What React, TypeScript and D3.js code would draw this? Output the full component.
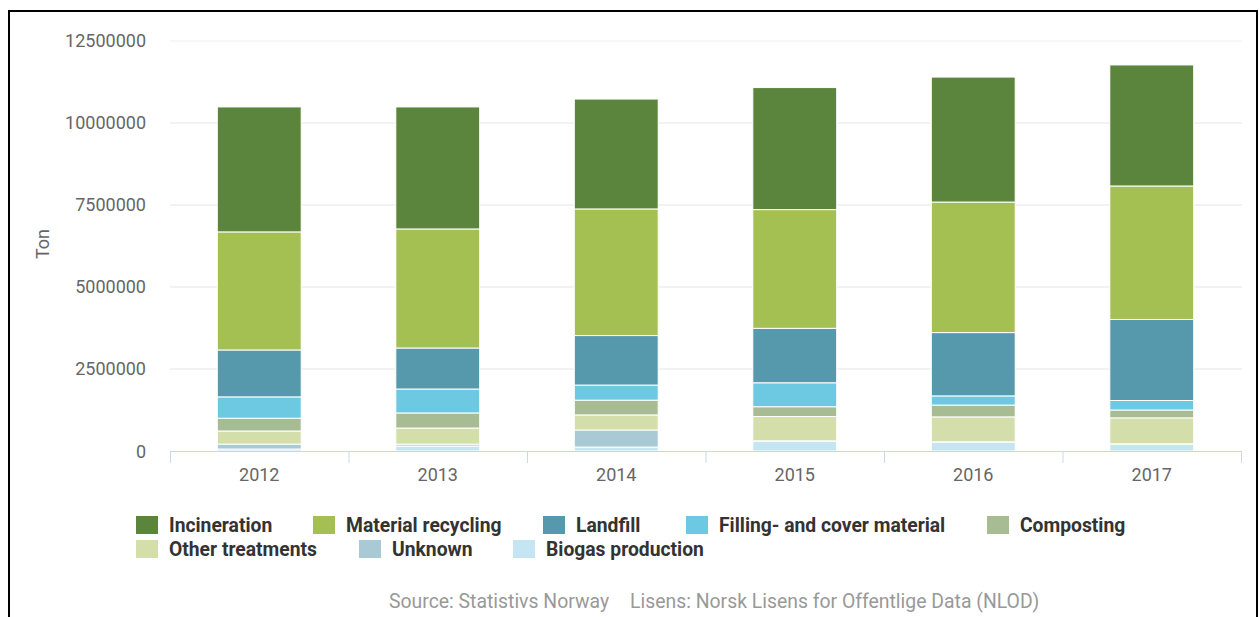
import React from "react";
import * as d3 from "d3";

const years = ["2012", "2013", "2014", "2015", "2016", "2017"];
const seriesNames = [
  "Incineration",
  "Material recycling",
  "Landfill",
  "Filling- and cover material",
  "Composting",
  "Other treatments",
  "Unknown",
  "Biogas production",
];
const colors = ["#5b843d", "#a5c052", "#5699ac", "#6dc8e2", "#a8bc94", "#d3deab", "#a9c9d4", "#c5e5f2"];

const incineration = [3810000, 3720000, 3350000, 3720000, 3810000, 3690000];
const materialRecycling = [3600000, 3630000, 3860000, 3620000, 3980000, 4070000];
const landfill = [1430000, 1250000, 1510000, 1660000, 1930000, 2470000];
const filling = [650000, 730000, 460000, 730000, 280000, 290000];
const composting = [390000, 460000, 450000, 300000, 360000, 240000];
const otherTreatments = [400000, 490000, 460000, 740000, 760000, 790000];
const unknown = [150000, 60000, 520000, 10000, 10000, 10000];
const biogas = [60000, 150000, 120000, 300000, 270000, 210000];

const seriesValues = [incineration, materialRecycling, landfill, filling, composting, otherTreatments, unknown, biogas];
const yTicks = [0, 2500000, 5000000, 7500000, 10000000, 12500000];

// layout
const W = 1259;
const H = 617;
const plotLeft = 170;
const plotRight = 1241;
const plotTop = 41;
const plotBottom = 451;
const legendX = [136, 313, 543, 686, 987, 136, 359, 513];
const legendRow = [0, 0, 0, 0, 0, 1, 1, 1];

export default function App() {
  const x = d3.scaleBand<string>().domain(years).range([plotLeft, plotRight]).paddingInner(0.53).paddingOuter(0.265);
  const y = d3.scaleLinear().domain([0, 12500000]).range([plotBottom, plotTop]);

  const rows = years.map((yr, i) => {
    const r: any = { year: yr };
    seriesNames.forEach((s, k) => (r[s] = seriesValues[k][i]));
    return r;
  });
  const stackKeys = [...seriesNames].reverse();
  const stacked = d3.stack<any>().keys(stackKeys)(rows);

  const boundaries = d3.range(years.length + 1).map((i) => plotLeft + i * x.step());
  const font = "Roboto, 'Liberation Sans', Arial, sans-serif";

  return (
    <svg width={W} height={H} style={{ position: "absolute", left: 0, top: 0, display: "block" }}>
      <rect x={0} y={0} width={W} height={H} fill="#fff" />
      <rect x={9} y={11} width={1248} height={700} fill="none" stroke="#000" strokeWidth={2} />
      {yTicks.map((t) => (
        <g key={t}>
          {t > 0 && (
            <line x1={plotLeft} x2={plotRight + 1} y1={y(t)} y2={y(t)} stroke={t === 12500000 ? "#f0f0f0" : "#e6e6e6"} strokeWidth={1} />
          )}
          <text x={146} y={y(t) + (t === 0 ? 1 : 0)} dy="0.35em" textAnchor="end" fontFamily={font} fontSize={18} fill="#666">
            {String(t)}
          </text>
        </g>
      ))}
      <text
        transform={`translate(49,${(plotTop + plotBottom) / 2 - 2}) rotate(-90)`}
        textAnchor="middle"
        fontFamily={font}
        fontSize={18}
        fill="#666"
      >
        Ton
      </text>
      {stacked.map((layer) => {
        const idx = seriesNames.indexOf(layer.key);
        return (
          <g key={layer.key}>
            {layer.map((d: any, i: number) => (
              <rect
                key={i}
                x={x(years[i])}
                width={x.bandwidth()}
                y={y(d[1])}
                height={Math.max(0, y(d[0]) - y(d[1]))}
                fill={colors[idx]}
                stroke="#fff"
                strokeWidth={1}
              />
            ))}
          </g>
        );
      })}
      <line x1={plotLeft} x2={plotRight + 1} y1={plotBottom + 0.5} y2={plotBottom + 0.5} stroke="#ccd6eb" strokeWidth={1} />
      {boundaries.map((bx, i) => (
        <line key={i} x1={bx + 0.5} x2={bx + 0.5} y1={plotBottom} y2={plotBottom + 12} stroke="#ccd6eb" strokeWidth={1} />
      ))}
      {years.map((yr) => (
        <text
          key={yr}
          x={(x(yr) as number) + x.bandwidth() / 2}
          y={481}
          textAnchor="middle"
          fontFamily={font}
          fontSize={18}
          fill="#666"
        >
          {yr}
        </text>
      ))}
      {seriesNames.map((s, k) => (
        <g key={s} transform={`translate(${legendX[k]},${516 + legendRow[k] * 24})`}>
          <rect x={0} y={0} width={22} height={18} fill={colors[k]} />
          <text x={33} y={16} fontFamily={font} fontSize={19.3} fontWeight="bold" fill="#333">
            {s}
          </text>
        </g>
      ))}
      <text x={389} y={608} fontFamily={font} fontSize={19.4} fill="#999">
        Source: Statistivs Norway
      </text>
      <text x={630} y={608} fontFamily={font} fontSize={19.4} fill="#999">
        Lisens: Norsk Lisens for Offentlige Data (NLOD)
      </text>
    </svg>
  );
}
